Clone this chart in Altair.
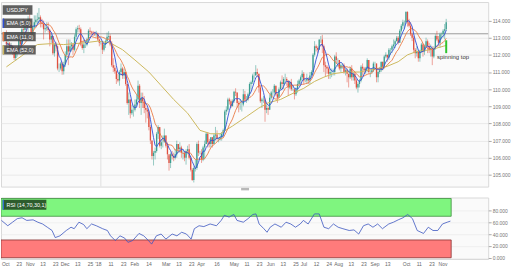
import json
import altair as alt
import pandas as pd

# ---------------- data (daily USD/JPY, Oct 6 2017 .. Nov 8 2018) -------------
FIRST_INDEX = 4          # trading-day index of the first candle (index 0 = Mon Oct 2 2017)
FIRST_OPEN = 112.75

close = [112.62,
 112.67,112.40,112.50,112.28,111.82, 112.20,112.20,112.90,112.60,113.50,
 113.45,113.90,113.70,114.10,113.66, 113.20,113.60,113.90,114.05,114.07,
 114.20,113.90,113.80,113.50,113.55, 113.60,113.45,112.90,113.10,112.10,
 112.60,112.50,111.20,111.20,111.50, 111.05,111.45,112.00,112.50,112.20,
 112.50,112.60,112.30,113.05,113.50, 113.55,113.50,112.60,112.40,112.60,
 112.60,112.90,113.40,113.35,113.30, 113.25,113.20,113.25,112.90,112.70,
 112.70,112.30,112.60,112.80,113.05, 113.10,112.60,111.40,111.25,111.05,
 110.60,110.50,111.00,111.20,110.80, 111.00,110.30,109.20,109.40,108.60,
 108.80,108.80,109.10,109.40,110.20, 109.20,109.50,109.30,108.90,108.80,
 108.70,107.80,107.00,106.10,106.30, 106.40,107.40,107.80,106.70,106.90,
 106.90,107.30,106.70,106.20,105.70, 106.20,106.10,106.00,106.20,106.80,
 106.50,106.60,106.30,106.30,106.00, 106.40,106.50,106.00,105.30,104.70,
 105.40,105.40,106.80,106.30,106.30, 105.90,106.60,106.80,107.40,106.90,
 106.80,107.20,106.80,107.30,107.35, 107.10,107.10,107.20,107.40,107.60,
 108.70,108.80,109.40,109.30,109.00, 109.30,109.85,109.80,109.20,109.10,
 109.10,109.10,109.70,109.40,109.40, 109.70,110.30,110.40,110.80,110.80,
 111.00,110.90,110.10,109.30,109.40, 109.40,108.80,108.90,108.80,109.50,
 109.80,109.80,110.20,109.70,109.50, 110.00,110.40,110.30,110.60,110.60,
 110.50,110.10,110.40,110.00,110.00, 109.70,110.00,110.30,110.50,110.70,
 110.90,110.50,110.50,110.60,110.50, 110.80,111.00,112.00,112.50,112.40,
 112.30,112.90,112.90,112.50,111.40, 111.30,111.20,110.90,111.00,111.00,
 111.00,111.90,111.70,111.70,111.20, 111.40,111.40,111.00,111.10,110.90,
 110.70,111.20,110.70,110.90,110.50, 110.10,110.30,110.50,111.30,111.20,
 111.10,111.20,111.70,111.00,111.00, 111.10,111.50,111.50,110.70,111.00,
 111.10,111.60,111.30,111.90,112.00, 111.85,112.30,112.30,112.50,112.60,
 112.80,113.00,112.70,113.40,113.70, 113.90,113.90,114.50,113.90,113.70,
 113.20,113.00,112.30,112.10,112.20, 111.80,112.20,112.60,112.20,112.50,
 112.80,112.50,112.30,112.40,111.90, 112.40,113.10,112.90,112.70,113.20,
 113.20,113.40,113.50,113.90]

high = [113.43,
 112.80,112.75,112.70,112.55,112.25, 112.25,112.40,113.00,113.10,113.57,
 114.10,113.98,114.05,114.25,114.45, 113.70,113.70,114.30,114.30,114.45,
 114.73,114.30,114.10,114.00,113.75, 113.90,113.90,113.50,113.20,113.10,
 112.70,112.75,112.55,111.50,111.60, 111.60,111.60,112.20,112.90,112.90,
 112.90,112.75,112.70,113.20,113.60, 113.70,113.75,113.60,112.80,112.90,
 112.80,113.00,113.50,113.60,113.40, 113.40,113.35,113.40,113.30,112.95,
 112.75,112.80,112.70,112.90,113.30, 113.38,113.20,112.80,111.80,111.40,
 111.10,110.90,111.10,111.50,111.30, 111.20,111.00,110.30,109.80,109.40,
 109.10,109.00,109.40,109.70,110.50, 110.30,109.80,109.80,109.60,109.10,
 108.90,108.80,107.90,107.00,106.40, 106.60,107.50,107.90,107.70,107.10,
 107.30,107.70,107.30,106.90,106.10, 106.30,106.40,106.30,106.50,107.00,
 106.80,106.90,106.70,106.50,106.40, 106.50,106.70,106.80,106.10,105.40,
 105.50,105.90,106.90,107.00,106.40, 106.50,106.70,107.00,107.50,107.50,
 107.10,107.20,107.20,107.40,107.80, 107.60,107.20,107.40,107.50,107.70,
 108.80,109.00,109.50,109.50,109.40, 109.40,109.90,110.05,109.80,109.30,
 109.40,109.30,110.00,109.90,109.60, 109.80,110.40,110.50,110.90,111.00,
 111.40,111.20,110.90,110.20,109.50, 109.60,109.50,109.10,109.00,109.70,
 109.90,110.00,110.30,110.20,109.80, 110.10,110.50,110.80,110.70,110.90,
 110.70,110.30,110.50,110.60,110.20, 110.00,110.10,110.50,110.60,110.80,
 111.10,111.00,110.60,110.90,110.70, 111.00,111.10,112.10,112.80,112.60,
 112.50,112.90,113.10,113.17,112.60, 111.60,111.40,111.30,111.20,111.20,
 111.20,112.00,112.15,111.80,111.70, 111.50,111.50,111.50,111.20,111.20,
 110.90,111.30,111.40,111.00,111.00, 110.60,110.40,110.60,111.40,111.50,
 111.30,111.30,111.80,111.70,111.10, 111.20,111.60,111.60,111.50,111.10,
 111.30,111.60,111.60,112.00,112.15, 112.00,112.40,112.40,112.60,112.90,
 112.90,113.10,113.10,113.50,113.80, 114.05,114.00,114.55,114.55,114.10,
 113.90,113.30,113.10,112.40,112.50, 112.20,112.30,112.70,112.70,112.60,
 113.00,112.90,112.70,112.60,112.50, 112.50,113.20,113.40,113.10,113.30,
 113.30,113.50,113.80,114.10]

low = [112.30,
 112.35,112.10,112.10,112.00,111.70, 111.65,111.90,112.10,112.30,112.60,
 113.30,113.20,113.30,113.30,113.60, 112.90,113.00,113.55,113.60,113.80,
 113.85,113.60,113.60,112.90,113.30, 113.40,113.30,112.50,112.70,112.00,
 111.90,112.20,111.10,111.00,111.10, 110.84,110.85,111.30,111.80,111.40,
 112.20,112.20,112.00,112.20,112.90, 113.30,113.30,112.50,112.30,112.10,
 112.40,112.50,112.80,113.10,113.15, 113.10,113.10,113.05,112.80,112.50,
 112.60,112.05,112.20,112.40,112.70, 112.90,112.50,111.30,111.00,110.90,
 110.30,110.40,110.20,110.80,110.60, 110.60,110.20,109.10,108.50,108.30,
 108.50,108.40,108.70,109.00,109.30, 108.90,108.50,108.90,108.60,108.05,
 108.30,107.60,106.80,105.90,105.55, 105.90,106.30,107.10,106.60,106.50,
 106.60,106.90,106.60,105.90,105.25, 105.40,105.90,105.80,105.90,106.00,
 106.30,106.30,106.00,105.90,105.80, 105.60,106.20,105.90,105.20,104.65,
 104.56,105.20,105.30,106.10,106.20, 105.70,105.80,105.90,106.80,106.60,
 106.60,106.60,106.60,106.80,107.00, 107.00,106.90,107.00,107.00,107.20,
 107.55,108.50,108.70,109.10,108.90, 109.00,109.20,109.60,108.90,108.65,
 108.80,108.70,109.00,109.30,109.20, 109.30,109.60,110.00,110.30,110.60,
 110.80,110.70,109.80,109.20,108.90, 109.20,108.10,108.60,108.50,108.80,
 109.40,109.60,109.70,109.60,109.20, 109.60,110.00,110.00,110.00,110.30,
 110.20,109.60,110.00,109.90,109.90, 109.40,109.60,109.80,110.20,110.30,
 110.50,110.30,110.40,110.30,110.30, 110.30,110.80,110.80,111.90,112.20,
 112.10,112.30,112.70,112.10,111.00, 110.75,110.90,110.60,110.60,110.70,
 110.80,110.80,111.50,111.30,111.10, 111.00,111.20,110.90,110.80,110.40,
 110.10,110.60,110.50,110.50,110.30, 110.00,109.80,110.10,110.40,110.80,
 110.90,110.90,111.00,110.90,110.70, 110.90,111.00,111.10,110.40,110.40,
 110.90,111.00,111.10,111.20,111.80, 111.60,111.70,112.00,112.10,112.40,
 112.40,112.80,112.60,112.70,113.30, 113.50,113.50,113.80,113.65,113.60,
 113.10,112.80,112.10,111.80,111.90, 111.60,111.60,112.10,111.90,112.00,
 112.50,112.10,112.10,111.90,111.40, 111.80,112.30,112.80,112.60,112.40,
 112.90,113.00,112.90,113.40]

ema52_day = [4, 24, 32, 41, 54, 63, 71, 79, 87, 96, 104, 112, 121, 129, 136, 142, 150, 159,
             167, 173, 181, 190, 196, 203, 209, 215, 223, 232, 240, 249, 257, 263, 269, 278, 286, 288]
ema52_val = [111.3, 112.6, 112.65, 112.6, 112.7, 112.8, 112.7, 112.3, 111.7, 111.0, 110.2, 109.4,
             108.6, 107.6, 107.4, 107.4, 107.85, 108.4, 108.9, 109.2, 109.4, 109.8, 110.05, 110.45,
             110.7, 110.9, 111.0, 111.0, 111.15, 111.3, 111.6, 112.0, 112.2, 112.3, 112.5, 112.55]

rsi_day = [4, 8, 11, 14, 17, 20, 24, 27, 30, 33, 36, 38, 41, 45, 48, 50, 53, 56, 58, 61,
           64, 68, 71, 73, 76, 79, 82, 84, 87, 91, 94, 97, 99, 102, 105, 108, 112, 115, 118, 121,
           124, 126, 129, 132, 136, 140, 143, 145, 148, 151, 153, 157, 160, 163, 165, 167, 170, 172, 174, 177,
           181, 184, 187, 190, 193, 195, 198, 202, 205, 208, 211, 214, 217, 220, 224, 227, 230, 233, 236, 239,
           242, 245, 249, 252, 255, 258, 261, 264, 267, 271, 274, 277, 280, 283, 286, 288]
rsi_val = [63, 54, 60, 66, 67.5, 63, 64, 60, 57, 51.5, 46, 34, 37, 46, 51.5, 49, 60, 56, 49, 57,
           54, 49, 46, 37, 29, 37, 33, 26, 29, 41, 37, 29, 23, 37, 40, 31.5, 40, 37, 43, 40,
           31.5, 49, 54, 52.6, 57, 54, 63, 71.5, 68.6, 73, 63, 60, 66, 73, 74, 57, 49, 43, 51.5, 57,
           51.5, 60, 57, 51.5, 57, 63, 57, 74, 74, 51.5, 49, 57, 51.5, 49, 46, 47, 40, 54, 57, 51.5,
           57, 49, 57, 60, 64, 67.5, 73, 66, 46, 41, 51.5, 46, 46, 57, 60, 61.8]

tick_day = [6.4, 15, 22, 30, 38, 44, 52, 60, 65, 73, 81, 88, 97, 108, 116, 124, 130, 140, 151, 159,
            167, 174, 182, 190, 195, 203, 211, 217, 225, 233, 240, 248, 260, 268, 276, 283]
tick_text = ["Oct", "23", "Nov", "13", "23", "Dec", "13", "25", "'18", "11", "23", "Feb", "14", "Mar",
             "13", "23", "Apr", "16", "May", "11", "23", "Jun", "13", "25", "Jul", "12", "24", "Aug",
             "13", "23", "Sep", "13", "Oct", "11", "23", "Nov"]

price_ticks = [105, 106, 107, 108, 109, 110, 111, 112, 113, 114]
rsi_ticks = [0, 20, 40, 60, 80]
level_line = [113.23]
year_start = [65]
rsi_upper = [70, 100]
rsi_lower = [0, 30]
note_day = [292.4]
note_price = [111.88]
note_text = ["spinning top"]
mark_day = [288]
mark_lo = [112.1]
mark_hi = [112.85]
legend_text = ["USDJPY", "EMA (5,0)", "EMA (11,0)", "EMA (52,0)"]
rsi_label = "RSI (14,70,30,1)"

# ---------------- styling ----------------
FONT = "Liberation Sans"
UP, DOWN = "#3a9d8f", "#e0503f"
BLUE, ORANGE, KHAKI = "#2f4fd6", "#ea7a45", "#cdb85e"
W = 491
H_MAIN, H_RSI = 186, 62

n = len(close)
df = pd.DataFrame({
    "i": list(range(FIRST_INDEX, FIRST_INDEX + n)),
    "o": [FIRST_OPEN] + close[:-1],
    "h": high, "l": low, "c": close,
})

XS = alt.Scale(domain=[3.7, 311.9], nice=False, zero=False)
YS = alt.Scale(domain=[104.32, 115.08], nice=False, zero=False)
RS = alt.Scale(domain=[-2.2, 101.7], nice=False, zero=False)

y_axis = alt.Axis(orient="right", values=price_ticks, format=".3f", labelFontSize=5,
                  labelColor="#777", labelFont=FONT, tickColor="#aaa", tickSize=3, labelPadding=1,
                  domain=False, grid=True, gridColor="#e6e6e6", gridWidth=0.8, title=None)
r_axis = alt.Axis(orient="right", values=rsi_ticks, format=".3f", labelFontSize=5,
                  labelColor="#777", labelFont=FONT, tickColor="#aaa", tickSize=3, labelPadding=1,
                  domain=False, grid=True, gridColor="#e9e9e9", gridWidth=0.6, title=None)
label_expr = f"{json.dumps(tick_text)}[indexof({json.dumps(tick_day)}, datum.value)]"
x_axis = alt.Axis(values=tick_day, labelExpr=label_expr, labelFontSize=5, labelColor="#666",
                  labelFont=FONT, ticks=False, domain=False, grid=False, labelPadding=3,
                  labelOverlap=False, title=None)


def xm(field="i"):
    return alt.X(f"{field}:Q", scale=XS, axis=None)


def ym(field):
    return alt.Y(f"{field}:Q", scale=YS, axis=y_axis)


col = alt.condition(alt.datum.c >= alt.datum.o, alt.value(UP), alt.value(DOWN))

vline = alt.Chart(pd.DataFrame({"i": year_start, "p": [price_ticks[0]]})).mark_rule(
    color="#e0e0e0", strokeWidth=1).encode(x=xm())
hline = alt.Chart(pd.DataFrame({"p": level_line})).mark_rule(
    color="#9a9a9a", strokeWidth=1).encode(y=ym("p"))
base = alt.Chart(df)
wick = base.mark_rule(strokeWidth=0.7, opacity=0.75, clip=True).encode(
    x=xm(), y=ym("l"), y2="h:Q", color=col)
body = base.mark_bar(size=1.3, clip=True).encode(x=xm(), y=ym("o"), y2="c:Q", color=col)
ema_fast = base.transform_window(e5="mean(c)", frame=[-4, 0], sort=[alt.SortField("i")]).mark_line(
    color=BLUE, strokeWidth=0.9, clip=True).encode(x=xm(), y=ym("e5"))
ema_mid = base.transform_window(e11="mean(c)", frame=[-10, 0], sort=[alt.SortField("i")]).mark_line(
    color=ORANGE, strokeWidth=0.9, clip=True).encode(x=xm(), y=ym("e11"))
ema_slow = alt.Chart(pd.DataFrame({"i": ema52_day, "e": ema52_val})).mark_line(
    color=KHAKI, strokeWidth=1, clip=True).encode(x=xm(), y=ym("e"))
note = alt.Chart(pd.DataFrame({"i": note_day, "p": note_price, "t": note_text})).mark_text(
    fontSize=6, font=FONT, color="#333").encode(x=xm(), y=ym("p"), text="t:N")
marker = alt.Chart(pd.DataFrame({"i": mark_day, "lo": mark_lo, "hi": mark_hi})).mark_bar(
    size=2, color="#2fc42f").encode(x=xm(), y=ym("lo"), y2="hi:Q")

layers = [vline, hline, wick, body, ema_slow, ema_mid, ema_fast, marker, note]

# legend boxes (top-left overlay)
strip_cols = [None, BLUE, ORANGE, KHAKI]
box_w = [30, 30, 33.3, 33.3]
for k, txt in enumerate(legend_text):
    y0 = 3.3 + 13.4 * k
    one = alt.Chart(pd.DataFrame({"t": [txt]}))
    layers.append(one.mark_rect(color="#4a4a4a", opacity=0.88).encode(
        x=alt.value(1.7), x2=alt.value(1.7 + box_w[k]), y=alt.value(y0), y2=alt.value(y0 + 9.4)))
    if strip_cols[k]:
        layers.append(one.mark_rect(color=strip_cols[k]).encode(
            x=alt.value(1.7), x2=alt.value(3.2), y=alt.value(y0), y2=alt.value(y0 + 9.4)))
    layers.append(one.mark_text(color="white", fontSize=5.5, font=FONT, align="left",
                                baseline="middle").encode(
        x=alt.value(5.5), y=alt.value(y0 + 4.9), text="t:N"))

# panel divider handle
layers.append(alt.Chart(pd.DataFrame({"t": ["handle"]})).mark_rect(color="#b8b8b8").encode(
    x=alt.value(242), x2=alt.value(250), y=alt.value(187.3), y2=alt.value(189.8)))

main = alt.layer(*layers).properties(width=W, height=H_MAIN)

# ---------------- RSI panel ----------------
def xr(field="i"):
    return alt.X(f"{field}:Q", scale=XS, axis=x_axis)


def yr(field):
    return alt.Y(f"{field}:Q", scale=RS, axis=r_axis)


band_df = pd.DataFrame({"x0": [3.7, 3.7], "x1": [288.5, 288.5],
                        "lo": [rsi_upper[0], rsi_lower[0]], "hi": [rsi_upper[1], rsi_lower[1]],
                        "k": ["over", "under"]})
bands = alt.Chart(band_df).mark_rect(clip=True, strokeWidth=0.8).encode(
    x=xr("x0"), x2="x1:Q", y=yr("lo"), y2="hi:Q",
    fill=alt.Fill("k:N", scale=alt.Scale(domain=["over", "under"], range=["#7ff57f", "#ff7b7b"]), legend=None),
    stroke=alt.Stroke("k:N", scale=alt.Scale(domain=["over", "under"], range=["#3f8f3f", "#8a3434"]), legend=None))
rsi_line = alt.Chart(pd.DataFrame({"i": rsi_day, "r": rsi_val})).mark_line(
    color="#3b56c0", strokeWidth=0.8, clip=True).encode(x=xr(), y=yr("r"))
one = alt.Chart(pd.DataFrame({"t": [rsi_label]}))
rsi_box = one.mark_rect(color="#2d5c2d").encode(
    x=alt.value(1.7), x2=alt.value(45.7), y=alt.value(2.3), y2=alt.value(12.3))
rsi_strip = one.mark_rect(color="#2f6fd0").encode(
    x=alt.value(1.7), x2=alt.value(3.0), y=alt.value(2.3), y2=alt.value(12.3))
rsi_txt = one.mark_text(color="white", fontSize=5.5, font=FONT, align="left", baseline="middle").encode(
    x=alt.value(5.5), y=alt.value(7.5), text="t:N")

rsi = alt.layer(bands, rsi_line, rsi_box, rsi_strip, rsi_txt).properties(width=W, height=H_RSI)

chart = alt.vconcat(main, rsi, spacing=5).properties(
    padding={"left": 0, "top": 0, "right": 0, "bottom": 0}, background="white"
).configure_view(stroke="#d9d9d9", fill="#fafafa")

chart.save("out.html", embed_options={"renderer": "svg", "actions": False})
